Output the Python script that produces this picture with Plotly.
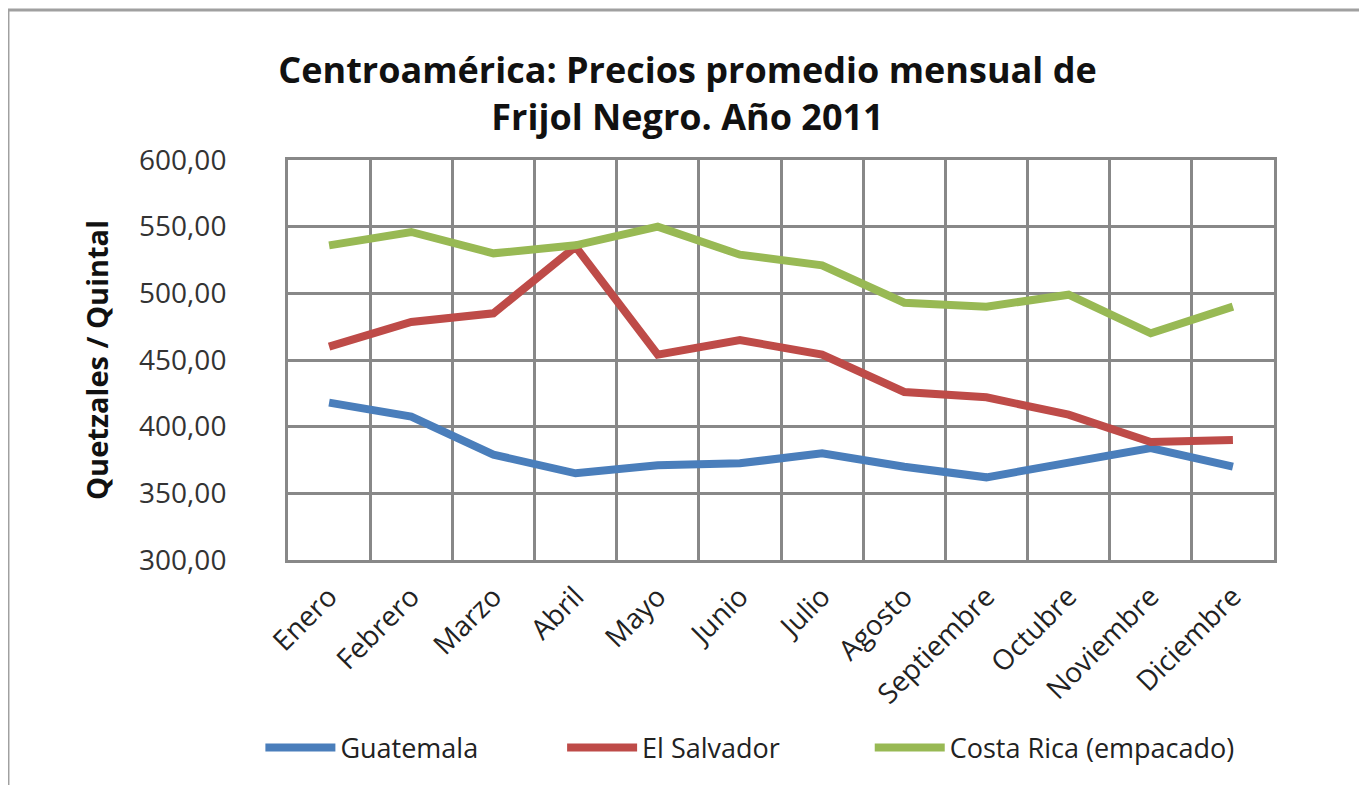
import plotly.graph_objects as go

months = ["Enero", "Febrero", "Marzo", "Abril", "Mayo", "Junio", "Julio",
          "Agosto", "Septiembre", "Octubre", "Noviembre", "Diciembre"]
guatemala = [418, 407.5, 379, 365, 371, 372.5, 380, 370, 362, 373, 384, 370]
el_salvador = [460, 478.5, 485, 535, 454, 465, 454, 426, 422, 409, 388.5, 390]
costa_rica = [536, 546, 530, 536, 550, 529, 521, 493, 490, 499, 470, 490]

series = [
    ("Guatemala", guatemala, "#4a7ebb", "legend"),
    ("El Salvador", el_salvador, "#be4b48", "legend2"),
    ("Costa Rica (empacado)", costa_rica, "#98b954", "legend3"),
]

fig = go.Figure()
for name, vals, color, lg in series:
    fig.add_trace(go.Scatter(x=months, y=vals, name=name, mode="lines", legend=lg,
                             line=dict(color=color, width=8)))

grid = "#888888"
leg_common = dict(orientation="h", xanchor="left", y=-0.47, yanchor="middle",
                  font=dict(size=27, color="#222222"), itemwidth=70,
                  bgcolor="rgba(0,0,0,0)")
fig.update_layout(
    width=1359, height=777,
    margin=dict(l=280, r=93, t=152, b=225),
    paper_bgcolor="white", plot_bgcolor="white",
    separators=",.",
    font=dict(family="Open Sans", color="#222222"),
    title=dict(text="Centroamérica: Precios promedio mensual de<br>Frijol Negro. Año 2011",
               x=0.5, xanchor="center", y=0.903, yanchor="middle",
               font=dict(family="Open Sans", size=36, color="#111111", weight="bold")),
    showlegend=True,
    legend=dict(x=-0.028, **leg_common),
    legend2=dict(x=0.278, **leg_common),
    legend3=dict(x=0.590, **leg_common),
    xaxis=dict(type="category", tickson="boundaries", showgrid=True, gridcolor=grid, gridwidth=3,
               showline=True, linecolor=grid, linewidth=3, mirror=True,
               tickangle=-45, ticks="", ticklabelstandoff=6,
               tickfont=dict(size=28, color="#222222"),
               range=[-0.5, 11.5], zeroline=False),
    yaxis=dict(range=[300, 600], dtick=50, tickformat=".2f", showgrid=True, gridcolor=grid,
               gridwidth=3, showline=True, linecolor=grid, linewidth=3, mirror=True,
               ticks="", ticklabelstandoff=53, tickfont=dict(size=28, color="#333333"),
               zeroline=False,
               title=dict(text="Quetzales / Quintal", standoff=22,
                          font=dict(family="Open Sans", size=29, color="#111111", weight="bold"))),
    shapes=[dict(type="rect", xref="paper", yref="paper",
                 x0=-0.284, x1=1.092, y0=-0.6, y1=1.375,
                 line=dict(color="#a0a0a0", width=3), layer="below")],
)

fig.write_html("out.html")
